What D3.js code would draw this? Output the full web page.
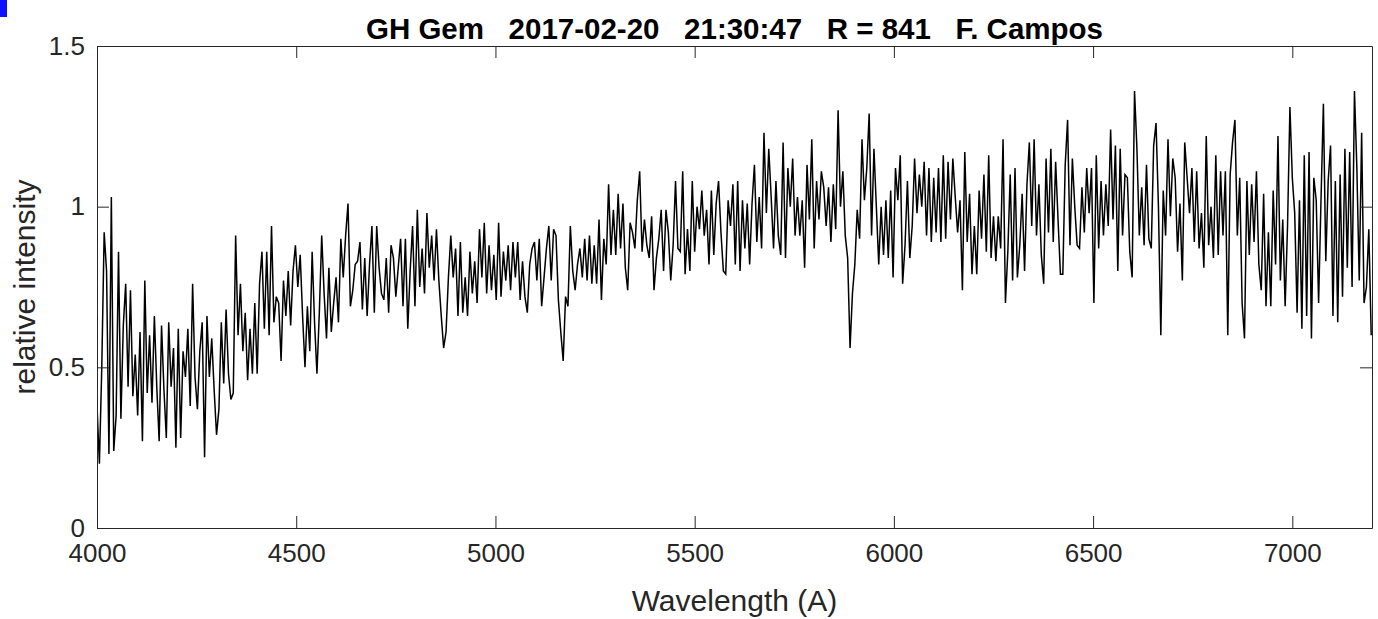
<!DOCTYPE html>
<html>
<head>
<meta charset="utf-8">
<script src="https://cdn.jsdelivr.net/npm/d3@7"></script>
<style>
  body { margin: 0; background: #ffffff; }
  svg { display: block; font-family: "Liberation Sans", Arial, Helvetica, sans-serif; }
</style>
</head>
<body>
<svg id="spectrum"></svg>
<script>
// DATA (one value every 6 A from 4000 A)
const waveStart = 4000
const waveStep = 6
const intensity = [
  0.38,0.20,0.50,0.92,0.80,0.23,1.03,0.24,0.35,0.86,0.34,0.63,0.76,0.44,0.74,0.41,0.54,0.35,0.61,0.27,
  0.77,0.42,0.60,0.39,0.66,0.44,0.27,0.63,0.43,0.28,0.64,0.44,0.56,0.25,0.62,0.28,0.55,0.47,0.62,0.38,
  0.76,0.47,0.37,0.55,
  0.64,0.22,0.66,0.47,0.59,0.43,0.29,0.37,0.64,0.45,0.68,0.48,0.40,0.42,0.91,0.60,0.76,0.55,0.67,0.46,
  0.62,0.48,0.70,0.48,0.76,0.86,0.62,0.86,0.60,0.94,0.64,0.72,0.70,0.52,0.77,0.66,0.80,0.63,0.80,0.88,
  0.75,0.85,0.66,0.50,0.69,
  0.55,0.86,0.64,0.48,0.67,0.91,0.73,0.59,0.81,0.61,0.70,0.78,0.64,0.90,0.78,0.91,1.01,0.69,0.74,0.82,
  0.83,0.89,0.68,0.84,0.66,0.82,0.94,0.67,0.94,0.81,0.73,0.71,0.84,0.67,0.88,0.84,0.72,0.81,0.90,0.69,
  0.90,0.62,0.80,0.94,0.69,
  0.99,0.75,0.87,0.73,0.98,0.81,0.91,0.77,0.93,0.77,0.66,0.56,0.61,0.78,0.91,0.78,0.87,0.66,0.89,0.67,
  0.78,0.66,0.86,0.73,0.83,0.70,0.93,0.78,0.95,0.73,0.88,0.74,0.85,0.71,0.95,0.72,0.86,0.77,0.88,0.74,
  0.89,0.78,0.89,0.71,0.83,
  0.72,0.67,0.82,0.87,0.89,0.77,0.90,0.69,0.78,0.87,0.94,0.77,0.93,0.91,0.71,0.61,0.52,0.72,0.69,0.94,
  0.80,0.74,0.82,0.87,0.78,0.90,0.77,0.91,0.76,0.88,0.76,0.96,0.71,0.90,0.82,1.07,0.85,0.99,0.85,1.04,
  0.87,1.01,0.81,0.74,0.95,
  0.92,0.87,1.02,1.11,0.86,0.96,0.88,0.84,0.97,0.74,0.84,0.90,0.99,0.80,0.99,0.92,0.77,0.88,1.08,0.87,
  0.86,1.11,0.79,0.93,0.80,1.08,0.86,1.00,0.93,1.05,0.91,0.99,0.82,1.05,0.85,1.01,1.08,0.92,0.80,0.79,
  1.02,0.94,1.07,0.82,1.08,
  0.80,1.02,0.87,1.01,0.82,1.01,1.13,0.89,1.03,0.87,1.23,0.98,1.18,1.03,0.87,1.08,0.91,0.85,1.20,0.84,
  1.12,1.00,1.15,0.91,1.03,0.91,1.02,0.81,1.13,0.96,1.21,0.87,1.08,0.96,1.11,1.06,0.94,1.06,0.89,1.07,
  0.93,1.30,1.00,1.11,0.91,
  0.84,0.56,0.73,0.82,0.99,0.90,1.21,1.02,1.12,1.29,0.91,1.18,1.00,0.82,1.00,0.85,1.02,0.84,1.05,0.78,
  1.12,1.02,1.16,0.76,0.88,1.08,0.84,0.94,1.15,0.98,1.10,1.00,1.14,0.91,1.12,0.89,1.09,0.92,1.12,0.89,
  1.16,0.90,1.14,0.96,1.15,
  1.03,0.92,1.02,0.74,1.17,0.89,1.04,0.79,0.94,0.79,1.05,0.90,1.10,0.86,1.16,0.84,0.97,0.83,0.97,0.87,
  1.21,0.70,0.86,1.10,0.77,1.12,0.78,0.88,1.04,0.80,1.07,1.20,0.94,1.21,0.91,1.07,0.85,0.76,1.15,0.92,
  1.18,0.89,1.14,0.96,0.79,
  0.79,1.13,1.27,0.88,1.15,1.00,0.88,0.87,1.06,0.92,1.12,0.98,1.12,0.70,1.16,0.87,1.08,0.91,1.07,0.94,
  1.24,0.96,1.19,0.80,1.18,0.91,1.10,1.09,0.86,0.78,1.36,1.18,0.91,1.06,0.88,1.13,0.90,0.87,1.19,1.26,
  1.00,0.60,1.05,0.91,1.21,
  0.97,1.15,1.09,0.86,1.01,0.77,1.20,1.09,0.98,1.12,0.89,1.11,0.87,0.98,0.81,1.22,0.88,1.00,0.84,1.16,
  0.85,1.11,0.91,1.11,0.60,1.10,1.20,1.27,0.91,1.09,0.70,0.59,1.08,0.85,1.07,0.89,1.11,0.82,0.74,1.04,
  0.69,0.92,0.69,1.05,0.82,
  1.22,0.77,0.96,0.69,0.94,1.31,1.09,0.98,0.67,1.02,0.62,1.16,0.66,1.17,0.59,1.09,1.02,0.70,1.02,1.32,
  0.83,1.08,1.19,0.66,1.08,0.64,1.10,0.72,1.18,0.81,1.17,0.75,1.36,1.12,0.77,1.23,0.70,0.75,0.93,0.60
]
const xTicks = [4000, 4500, 5000, 5500, 6000, 6500, 7000]
const yTicks = [0, 0.5, 1, 1.5]
const titleText = "GH Gem   2017-02-20   21:30:47   R = 841   F. Campos"
const xLabel = "Wavelength (A)"
const yLabel = "relative intensity"

function draw_spectrum() {

    let width = 1378
    let height = 619
    let margins = {top: 46, bottom: 91, left: 97, right: 6}
    let plotWidth = width - margins.left - margins.right
    let plotHeight = height - margins.top - margins.bottom
    let axisColour = '#262626'

    let svg = d3.select('#spectrum')
        .attr('width', width)
        .attr('height', height)

    // LITTLE BLUE MARK TOP LEFT
    svg.append('rect')
        .attr('x', 0)
        .attr('y', 0)
        .attr('width', 7)
        .attr('height', 17)
        .attr('fill', '#1010ff')

    let chart = svg.append('g')
        .attr('transform', `translate(${margins.left},${margins.top})`)

    // SCALES
    let x = d3.scaleLinear()
        .domain([4000, 7200])
        .range([0, plotWidth])
    let y = d3.scaleLinear()
        .domain([0, 1.5])
        .range([plotHeight, 0])

    let points = intensity.map((v, i) => ({wave: waveStart + i * waveStep, value: v}))

    // CLIP
    chart.append('clipPath')
        .attr('id', 'plot-clip')
        .append('rect')
        .attr('width', plotWidth)
        .attr('height', plotHeight)

    // SPECTRUM LINE
    let line = d3.line()
        .x(d => x(d.wave))
        .y(d => y(d.value))

    chart.append('path')
        .datum(points)
        .attr('clip-path', 'url(#plot-clip)')
        .attr('fill', 'none')
        .attr('stroke', '#000000')
        .attr('stroke-width', 1.5)
        .attr('d', line)

    // AXES (ticks point inwards, box all round)
    let bottomAxis = chart.append('g')
        .attr('transform', `translate(0,${plotHeight})`)
        .call(d3.axisBottom(x).tickValues(xTicks).tickSizeInner(-12).tickSizeOuter(0).tickPadding(16).tickFormat(d3.format('d')))
    let topAxis = chart.append('g')
        .call(d3.axisTop(x).tickValues(xTicks).tickSizeInner(-12).tickSizeOuter(0).tickFormat(''))
    let leftAxis = chart.append('g')
        .call(d3.axisLeft(y).tickValues(yTicks).tickSizeInner(-12).tickSizeOuter(0).tickPadding(12).tickFormat(d3.format('')))
    let rightAxis = chart.append('g')
        .attr('transform', `translate(${plotWidth},0)`)
        .call(d3.axisRight(y).tickValues(yTicks).tickSizeInner(-12).tickSizeOuter(0).tickFormat(''))

    for (let g of [bottomAxis, topAxis, leftAxis, rightAxis]) {
        g.select('.domain').attr('stroke', axisColour).attr('stroke-width', 1)
        g.selectAll('.tick line').attr('stroke', axisColour).attr('stroke-width', 1)
        g.selectAll('.tick text')
            .attr('fill', axisColour)
            .attr('font-size', 26)
            .attr('font-family', '"Liberation Sans", Arial, sans-serif')
    }

    // TITLE
    svg.append('text')
        .attr('x', margins.left + plotWidth / 2)
        .attr('y', 39)
        .attr('text-anchor', 'middle')
        .attr('font-size', 29.5)
        .attr('font-weight', 'bold')
        .attr('fill', '#000000')
        .style('white-space', 'pre')
        .text(titleText)

    // X AXIS LABEL
    svg.append('text')
        .attr('x', margins.left + plotWidth / 2)
        .attr('y', 611)
        .attr('text-anchor', 'middle')
        .attr('font-size', 30)
        .attr('fill', axisColour)
        .text(xLabel)

    // Y AXIS LABEL
    svg.append('text')
        .attr('transform', `translate(35,${margins.top + plotHeight / 2}) rotate(-90)`)
        .attr('text-anchor', 'middle')
        .attr('font-size', 30)
        .attr('fill', axisColour)
        .text(yLabel)
}

draw_spectrum()
</script>
</body>
</html>
